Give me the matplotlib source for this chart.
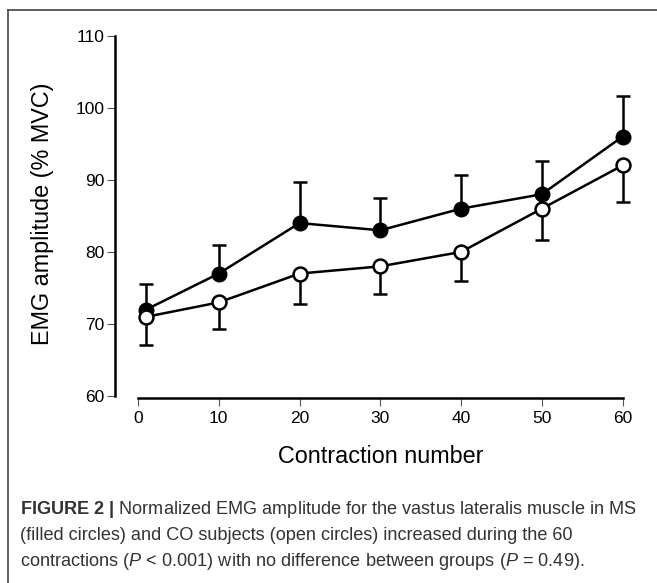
import matplotlib.pyplot as plt
from matplotlib.lines import Line2D

plt.rcParams['font.family'] = ['Liberation Sans', 'DejaVu Sans']
plt.rcParams['mathtext.fontset'] = 'custom'
plt.rcParams['mathtext.rm'] = 'Liberation Sans'
plt.rcParams['mathtext.it'] = 'Liberation Sans:italic'
plt.rcParams['mathtext.bf'] = 'Liberation Sans:bold'

# contraction number
contractions = [1, 10, 20, 30, 40, 50, 60]
# MS subjects (filled circles) mean and upper error
ms_mean = [72, 77, 84, 83, 86, 88, 96]
ms_upper = [75.5, 81.0, 89.7, 87.5, 90.6, 92.6, 101.6]
# CO subjects (open circles) mean and lower error
co_mean = [71, 73, 77, 78, 80, 86, 92]
co_lower = [67.1, 69.3, 72.8, 74.2, 75.9, 81.7, 86.9]

xticks = [0, 10, 20, 30, 40, 50, 60]
yticks = [60, 70, 80, 90, 100, 110]

fig = plt.figure(figsize=(6.57, 5.83), dpi=100)
ax = fig.add_axes([0.175, 0.318, 0.785, 0.621])

lw = 1.8
ms_err = [[0] * len(ms_mean), [u - m for u, m in zip(ms_upper, ms_mean)]]
co_err = [[m - l for l, m in zip(co_lower, co_mean)], [0] * len(co_mean)]

ax.errorbar(contractions, ms_mean, yerr=ms_err, fmt='none', ecolor='black',
            elinewidth=lw, capsize=5.3, capthick=lw, zorder=2)
ax.errorbar(contractions, co_mean, yerr=co_err, fmt='none', ecolor='black',
            elinewidth=lw, capsize=5.3, capthick=lw, zorder=2)
ax.plot(contractions, ms_mean, color='black', lw=lw, marker='o', ms=10,
        mfc='black', mec='black', mew=1.5, zorder=3)
ax.plot(contractions, co_mean, color='black', lw=lw, marker='o', ms=10,
        mfc='white', mec='black', mew=1.8, zorder=3)

ax.set_xlim(-2.85, 61)
ax.set_ylim(59.8, 110)
ax.set_xticks(xticks)
ax.set_yticks(yticks)
ax.spines['top'].set_visible(False)
ax.spines['right'].set_visible(False)
ax.spines['left'].set_bounds(60, 110)
ax.spines['bottom'].set_bounds(0, 60)
ax.spines['left'].set_linewidth(1.8)
ax.spines['bottom'].set_linewidth(1.8)
ax.tick_params(axis='both', direction='out', length=5.5, width=0.8,
               color='#555555', labelsize=12.5)
ax.tick_params(axis='y', pad=2)
ax.tick_params(axis='x', pad=4)

ax.set_xlabel("Contraction number", fontsize=16.8)
ax.xaxis.set_label_coords(0.516, -0.13)
fig.text(43 / 657, 1 - 214 / 583, "EMG amplitude (% MVC)", rotation=90,
         ha='center', va='center', fontsize=16.8)

# caption
cap_color = '#333333'
cap_size = 13.1
fig.text(20 / 657, 1 - 514 / 583,
         r"$\mathbf{FIGURE\ 2\ |}$ Normalized EMG amplitude for the vastus lateralis muscle in MS",
         fontsize=cap_size, color=cap_color, va='baseline', ha='left')
fig.text(20 / 657, 1 - 540 / 583,
         "(filled circles) and CO subjects (open circles) increased during the 60",
         fontsize=cap_size, color=cap_color, va='baseline', ha='left')
fig.text(20 / 657, 1 - 566 / 583,
         r"contractions ($P$ < 0.001) with no difference between groups ($P$ = 0.49).",
         fontsize=cap_size, color=cap_color, va='baseline', ha='left')

# frame lines (top and left)
fig.add_artist(Line2D([8 / 657, 1], [1 - 10 / 583, 1 - 10 / 583],
                      transform=fig.transFigure, color='#444444', lw=1.2))
fig.add_artist(Line2D([8 / 657, 8 / 657], [0, 1 - 10 / 583],
                      transform=fig.transFigure, color='#444444', lw=1.2))

fig.savefig("out.png", dpi=100)
